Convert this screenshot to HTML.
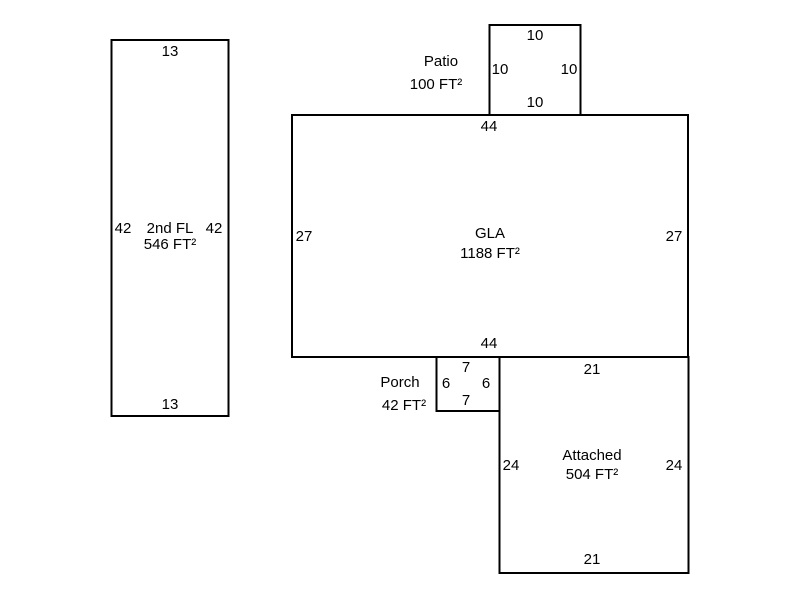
<!DOCTYPE html>
<html><head><style>body{margin:0;background:#fff}</style></head><body>
<svg width="800" height="600" xmlns="http://www.w3.org/2000/svg" font-family="Liberation Sans, sans-serif" font-size="15" fill="#000">
<rect x="0" y="0" width="800" height="600" fill="#fff"/>
<g fill="none" stroke="#000" stroke-width="2">
<rect x="111.5" y="40" width="117" height="376"/>
<rect x="292" y="115" width="396" height="242"/>
<rect x="489.5" y="25" width="91" height="90"/>
<rect x="436.5" y="357" width="63" height="54"/>
<rect x="499.5" y="357" width="189" height="216"/>
</g>
<g text-anchor="middle">
<text x="170" y="56">13</text>
<text x="123" y="233">42</text>
<text x="214" y="233">42</text>
<text x="170" y="233">2nd FL</text>
<text x="170" y="249">546 FT²</text>
<text x="170" y="409">13</text>
<text x="535" y="40">10</text>
<text x="500" y="74">10</text>
<text x="569" y="74">10</text>
<text x="535" y="107">10</text>
<text x="441" y="66">Patio</text>
<text x="436" y="89">100 FT²</text>
<text x="489" y="131">44</text>
<text x="304" y="241">27</text>
<text x="674" y="241">27</text>
<text x="490" y="238">GLA</text>
<text x="490" y="258">1188 FT²</text>
<text x="489" y="348">44</text>
<text x="466" y="372">7</text>
<text x="446" y="388">6</text>
<text x="486" y="388">6</text>
<text x="466" y="405">7</text>
<text x="400" y="387">Porch</text>
<text x="404" y="410">42 FT²</text>
<text x="592" y="374">21</text>
<text x="511" y="470">24</text>
<text x="674" y="470">24</text>
<text x="592" y="460">Attached</text>
<text x="592" y="479">504 FT²</text>
<text x="592" y="564">21</text>
</g>
</svg>
</body></html>
